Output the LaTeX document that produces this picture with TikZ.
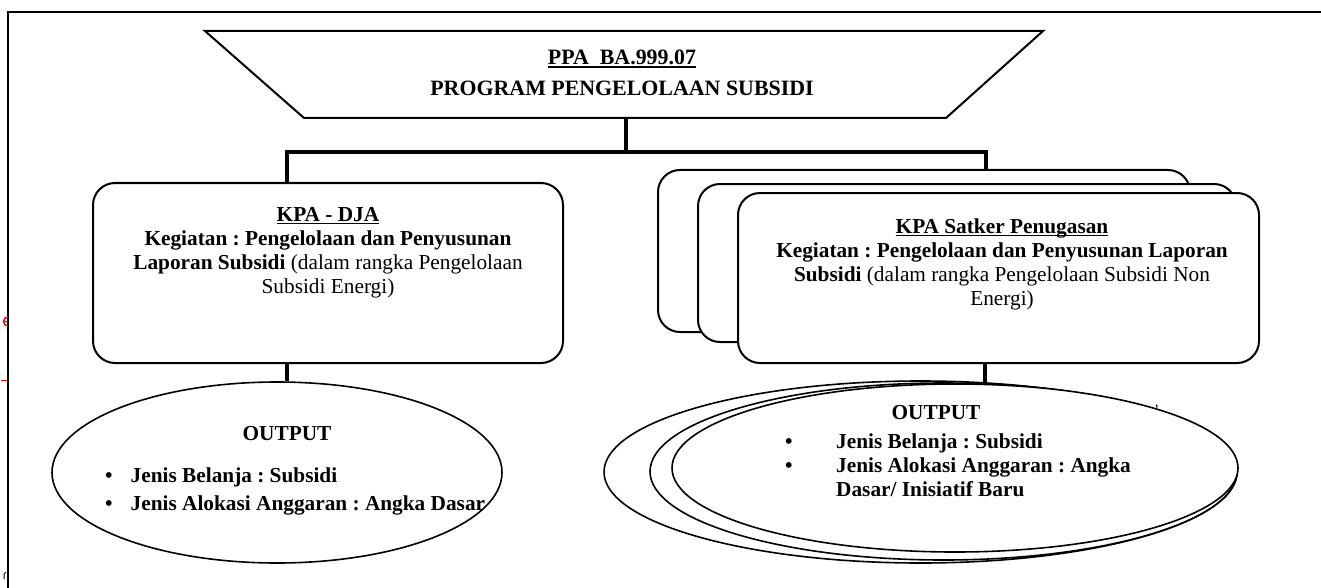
\documentclass[tikz,border=0pt]{standalone}
\usepackage{fontspec}
\setmainfont{Liberation Serif}
\usetikzlibrary{shapes.geometric}
\newcommand\myul[1]{\setbox0=\hbox{#1}\rlap{\rule[-2.6pt]{\wd0}{1.3pt}}\box0}
\frenchspacing
\begin{document}
\begin{tikzpicture}[x=1pt,y=-1pt,
  frame/.style={line width=2pt},
  trap/.style={draw, line width=2pt, fill=white},
  kbox/.style={rectangle, draw, line width=2pt, rounded corners=22pt, fill=white, inner sep=0pt},
  oval/.style={ellipse, draw, line width=1.6pt, fill=white, inner sep=0pt},
  conn/.style={line width=4.5pt},
  txt/.style={font=\fontsize{21.3}{23.9}\selectfont\bfseries\frenchspacing, inner sep=0pt, align=center},
  ttl/.style={font=\fontsize{21.9}{30.7}\selectfont\bfseries\frenchspacing, inner sep=0pt, align=center},
  lstA/.style={font=\fontsize{21.3}{27.4}\selectfont\bfseries\frenchspacing, inner sep=0pt, align=left},
  lstB/.style={font=\fontsize{21.3}{24}\selectfont\bfseries\frenchspacing, inner sep=0pt, align=left}]
\useasboundingbox (0,0) rectangle (1321,588);
% frame
\draw[frame] (7.5,588) -- (7.5,12.5) -- (1321,12.5);
% stray marks
\draw[red, line width=1.5pt] (8,326) arc[start angle=90, end angle=270, radius=4.5];
\draw[red, line width=1.2pt] (3,321.5) -- (8,321.5);
\draw[red, line width=1.8pt] (1,380.5) -- (7,380.5);
\draw[line width=1pt] (4,579) -- (4,574) -- (6,572);
% trapezoid
\coordinate (tTL) at (205,31);
\coordinate (tTR) at (1043,31);
\coordinate (tBR) at (946,118);
\coordinate (tBL) at (304,118);
\coordinate (trapB) at (626,118);
\draw[trap] (tTL) -- (tTR) -- (tBR) -- (tBL) -- cycle;
\node[ttl, anchor=north] (title) at (622,50.2) {\myul{PPA\ \ BA.999.07}\\PROGRAM PENGELOLAAN SUBSIDI};
% boxes
\node[kbox, minimum width=470pt, minimum height=180pt] (lbox) at (328,273) {};
\node[kbox, minimum width=532pt, minimum height=162pt] (rbox1) at (924,251) {};
\node[kbox, minimum width=538pt, minimum height=158pt] (rbox2) at (967,263) {};
\node[kbox, minimum width=521pt, minimum height=170pt] (rbox3) at (998.5,278) {};
\node[txt, anchor=north] (ltext) at (328,207.5) {\myul{KPA - DJA}\\
  Kegiatan : Pengelolaan dan Penyusunan\\
  Laporan Subsidi \textmd{(dalam rangka Pengelolaan}\\
  \textmd{Subsidi Energi)}};
\node[txt, anchor=north] (rtext) at (1002,218.6) {\myul{KPA Satker Penugasan}\\
  Kegiatan : Pengelolaan dan Penyusunan Laporan\\
  Subsidi \textmd{(dalam rangka Pengelolaan Subsidi Non}\\
  \textmd{Energi)}};
% ellipses
\node[oval, minimum width=450pt, minimum height=181pt] (lell) at (277,472.5) {};
\node[oval, minimum width=633pt, minimum height=182pt] (rell1) at (920.5,472) {};
\node[oval, minimum width=587pt, minimum height=177pt] (rell2) at (943.5,471.5) {};
\node[oval, minimum width=566pt, minimum height=168pt] (rell3) at (955,468) {};
\node[txt, anchor=base] (lout) at (287,440.7) {OUTPUT};
\node[lstA, anchor=north west] (llist) at (105,467.9) {\makebox[25.5pt][l]{•}Jenis Belanja : Subsidi\\
  \makebox[25.5pt][l]{•}Jenis Alokasi Anggaran : Angka Dasar};
\node[txt, anchor=base] (rout) at (936,419) {OUTPUT};
\node[lstB, anchor=north west] (rlist) at (785,433.6) {\makebox[51pt][l]{•}Jenis Belanja : Subsidi\\
  \makebox[51pt][l]{•}Jenis Alokasi Anggaran : Angka\\
  \hspace*{51pt}Dasar/ Inisiatif Baru};
\draw[line width=1.2pt] (1156.5,404.5) -- (1157,407.5);
% connectors
\coordinate (barL) at (287,152);
\coordinate (barR) at (986,152);
\coordinate (lx) at (287,0);
\coordinate (rx) at (985,0);
\draw[conn] (trapB) -- (trapB |- barL);
\draw[conn] (barL |- lbox.north) -- (barL) -- (barR) -- (barR |- rbox1.north);
\draw[conn] (lbox.south -| lx) -- (lx |- lell.north);
\draw[conn] (rbox3.south -| rx) -- (rx |- rell3.north);
\end{tikzpicture}
\end{document}
